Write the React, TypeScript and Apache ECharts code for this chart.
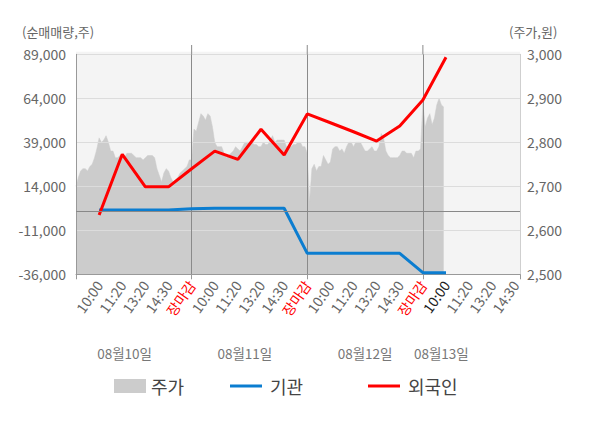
import React, { useEffect, useRef } from 'react';
import * as echarts from 'echarts';

// x-axis tick labels, one every 10 steps (index 10, 20, ... 190)
const tickLabels = [
  '10:00', '11:20', '13:20', '14:30', '장마감',
  '10:00', '11:20', '13:20', '14:30', '장마감',
  '10:00', '11:20', '13:20', '14:30', '장마감',
  '10:00', '11:20', '13:20', '14:30',
];
const closeLabel = '장마감';
const currentLabelIdx = 160;
const dateLabels = ['08월10일', '08월11일', '08월12일', '08월13일'];
const dateLabelIdx = [21, 73, 125, 158];
const dayBoundaryIdx = [50, 100, 150];
const AXIS_LEN = 193;
const SLOT = 10;

// 주가 (won), one value per axis step
const price = [
  2700, 2720, 2735, 2740, 2740, 2735, 2745, 2750, 2765, 2785,
  2810, 2800, 2805, 2815, 2800, 2780, 2780, 2765, 2765, 2770,
  2770, 2765, 2775, 2775, 2775, 2770, 2765, 2765, 2765, 2760,
  2765, 2770, 2770, 2770, 2765, 2740, 2725, 2710, 2730, 2740,
  2735, 2720, 2710, 2715, 2720, 2730, 2735, 2740, 2745, 2760,
  2760,
  2830, 2825, 2845, 2865, 2860, 2850, 2865, 2860, 2835, 2800,
  2790, 2790, 2790, 2775, 2765, 2770, 2775, 2780, 2790, 2785,
  2780, 2790, 2800, 2800, 2800, 2800, 2795, 2795, 2790, 2790,
  2800, 2795, 2795, 2805, 2815, 2800, 2805, 2805, 2805, 2805,
  2790, 2790, 2790, 2795, 2795, 2800, 2800, 2790, 2790, 2775,
  2665, 2740, 2750, 2735, 2745, 2745, 2770, 2760, 2750, 2755,
  2785, 2790, 2790, 2780, 2785, 2775, 2790, 2800, 2800, 2790,
  2800, 2800, 2800, 2790, 2780, 2780, 2785, 2790, 2780, 2780,
  2790, 2820, 2810, 2780, 2770, 2765, 2765, 2765, 2765, 2770,
  2780, 2780, 2775, 2775, 2775, 2765, 2780, 2780, 2785, 2890,
  2835, 2855, 2865, 2840, 2855, 2885, 2900, 2885, 2880,
];

// 순매매량 (shares) at each labelled slot (index 10, 20, ... 160)
const institution = [
  500, 500, 500, 500, 1200,
  1500, 1500, 1500, 1500, -24100,
  -24100, -24100, -24100, -24100, -35100,
  -35100,
];
const foreign = [
  -2300, 32200, 13700, 13700, 24000,
  34000, 29300, 46400, 31800, 55100,
  50100, 45000, 39700, 48300, 63000,
  87300,
];

const LEFT_MIN = -36000;
const LEFT_MAX = 89000;
const LEFT_STEP = 25000;
const RIGHT_MIN = 2500;
const RIGHT_MAX = 3000;
const RIGHT_STEP = 100;

const GRAY = '#cccccc';
const BLUE = '#0b7dd0';
const RED = '#ff0000';

const FONT = "'Noto Sans CJK KR', 'Noto Sans', sans-serif";
const GRID = { left: 76, right: 80, top: 54.3, bottom: 153.7 };

const labelAt = (i: number) => {
  if (i > 0 && i % SLOT === 0) {
    const k = i / SLOT - 1;
    if (k < tickLabels.length) return tickLabels[k];
  }
  return '';
};

const slotSeries = (vals: number[]) => {
  const arr: (number | null)[] = new Array(AXIS_LEN).fill(null);
  vals.forEach((v, k) => {
    arr[(k + 1) * SLOT] = v - LEFT_MIN;
  });
  return arr;
};

const legendText = { fontSize: 18, color: '#444', fontFamily: FONT, lineHeight: 18 };

export default function App() {
  const ref = useRef<HTMLDivElement>(null);

  useEffect(() => {
    document.body.style.margin = '0';
    if (!ref.current) return;
    const chart = echarts.init(ref.current, undefined, { renderer: 'svg' });
    const categories = Array.from({ length: AXIS_LEN }, (_, i) => String(i));

    const option: any = {
      animation: false,
      textStyle: { fontFamily: FONT },
      grid: { ...GRID, containLabel: false },
      xAxis: [
        {
          type: 'category',
          data: categories,
          boundaryGap: false,
          axisLine: { onZero: false, lineStyle: { color: '#999', width: 1 } },
          axisTick: {
            interval: (i: number) => i % 50 === 0 || i === AXIS_LEN - 1,
            length: 5,
            lineStyle: { color: '#999' },
          },
          splitLine: {
            show: true,
            interval: (i: number) => dayBoundaryIdx.includes(i),
            lineStyle: { color: '#8a8a8a', width: 1 },
          },
          axisLabel: {
            interval: (i: number) => labelAt(i) !== '',
            rotate: 55,
            fontSize: 14,
            color: '#666',
            margin: 8,
            fontFamily: FONT,
            formatter: (_v: string, i: number) => {
              const t = labelAt(i);
              if (!t) return '';
              if (t === closeLabel) return '{r|' + t + '}';
              if (i === currentLabelIdx) return '{b|' + t + '}';
              return t;
            },
            rich: {
              r: { color: RED, fontSize: 14, fontFamily: FONT },
              b: { color: '#222', fontSize: 14, fontFamily: FONT },
            },
          },
        },
        {
          type: 'category',
          data: categories,
          boundaryGap: false,
          position: 'bottom',
          offset: 64,
          axisLine: { show: false },
          axisTick: { show: false },
          splitLine: { show: false },
          axisLabel: {
            interval: (i: number) => dateLabelIdx.includes(i),
            fontSize: 13.5,
            color: '#777',
            fontFamily: FONT,
            formatter: (_v: string, i: number) => {
              const k = dateLabelIdx.indexOf(i);
              return k >= 0 ? dateLabels[k] : '';
            },
          },
        },
      ],
      yAxis: [
        {
          type: 'value',
          min: 0,
          max: LEFT_MAX - LEFT_MIN,
          interval: LEFT_STEP,
          axisLine: { show: true, lineStyle: { color: '#999' } },
          axisTick: { show: false },
          splitLine: { show: true, lineStyle: { color: '#dcdcdc', width: 1 } },
          axisLabel: {
            fontSize: 14,
            color: '#666',
            margin: 10,
            fontFamily: FONT,
            formatter: (v: number) => (v + LEFT_MIN).toLocaleString('en-US'),
          },
        },
        {
          type: 'value',
          min: RIGHT_MIN,
          max: RIGHT_MAX,
          interval: RIGHT_STEP,
          position: 'right',
          axisLine: { show: true, lineStyle: { color: '#cfcfcf' } },
          axisTick: { show: false },
          splitLine: { show: false },
          axisLabel: {
            fontSize: 14,
            color: '#666',
            margin: 7,
            fontFamily: FONT,
            formatter: (v: number) => v.toLocaleString('en-US'),
          },
        },
      ],
      legend: [
        {
          data: [{ name: '주가', icon: 'rect', itemStyle: { color: GRAY } }],
          left: 114, top: 377, padding: 0,
          itemWidth: 32, itemHeight: 14,
          textStyle: legendText,
        },
        {
          data: [{ name: '기관', icon: 'rect', itemStyle: { color: BLUE } }],
          left: 230, top: 377, padding: 0,
          itemWidth: 32, itemHeight: 3,
          textStyle: { ...legendText, padding: [0, 0, 0, 3] },
        },
        {
          data: [{ name: '외국인', icon: 'rect', itemStyle: { color: RED } }],
          left: 368, top: 377, padding: 0,
          itemWidth: 32, itemHeight: 3,
          textStyle: { ...legendText, padding: [0, 0, 0, 3] },
        },
      ],
      series: [
        {
          name: '주가',
          type: 'line',
          yAxisIndex: 1,
          z: -1,
          data: price,
          symbol: 'none',
          color: GRAY,
          itemStyle: { color: GRAY },
          lineStyle: { width: 0.5, color: GRAY },
          areaStyle: { color: GRAY, opacity: 1, origin: 'start' },
          silent: true,
        },
        {
          name: '기관',
          type: 'line',
          yAxisIndex: 0,
          data: slotSeries(institution),
          connectNulls: true,
          symbol: 'none',
          color: BLUE,
          lineStyle: { width: 3, color: BLUE },
          silent: true,
        },
        {
          name: '외국인',
          type: 'line',
          yAxisIndex: 0,
          data: slotSeries(foreign),
          connectNulls: true,
          symbol: 'none',
          color: RED,
          lineStyle: { width: 3, color: RED },
          silent: true,
          markLine: {
            silent: true,
            symbol: 'none',
            label: { show: false },
            lineStyle: { color: '#888', width: 1, type: 'solid' },
            data: [{ yAxis: 0 - LEFT_MIN }],
          },
        },
      ],
    };
    chart.setOption(option);

    const gridTop = GRID.top;
    const extTop = 45;
    const plotW = 600 - GRID.left - GRID.right;
    const plotH = 428 - GRID.top - GRID.bottom;
    const elements: any[] = [
      {
        type: 'rect',
        z: -10,
        silent: true,
        shape: { x: GRID.left, y: 51.7, width: plotW, height: plotH + (gridTop - 51.7) },
        style: { fill: '#f4f4f4' },
      },
      {
        type: 'text',
        left: 22,
        top: 25,
        style: { text: '(순매매량,주)', fontSize: 13, fill: '#666', fontFamily: FONT },
      },
      {
        type: 'text',
        left: 509,
        top: 25,
        style: { text: '(주가,원)', fontSize: 13, fill: '#666', fontFamily: FONT },
      },
    ];
    dayBoundaryIdx.forEach((idx) => {
      const px = chart.convertToPixel({ xAxisIndex: 0 }, idx) as number;
      elements.push({
        type: 'line',
        silent: true,
        shape: { x1: px, y1: extTop, x2: px, y2: gridTop },
        style: { stroke: '#8a8a8a', lineWidth: 1 },
      });
    });
    chart.setOption({ graphic: { elements } });

    return () => chart.dispose();
  }, []);

  return <div ref={ref} style={{ width: 600, height: 428 }} />;
}
